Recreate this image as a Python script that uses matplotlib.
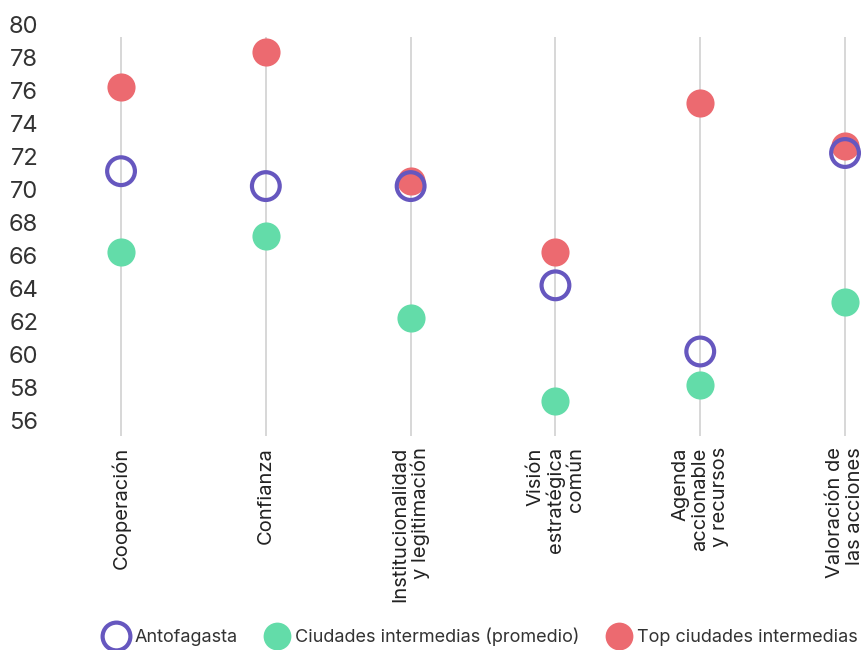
import matplotlib
matplotlib.use('Agg')
import matplotlib.pyplot as plt
from matplotlib.lines import Line2D

plt.rcParams['font.family'] = ['Inter', 'DejaVu Sans']

categorias = ['Cooperación', 'Confianza', 'Institucionalidad\ny legitimación',
              'Visión\nestratégica\ncomún', 'Agenda\naccionable\ny recursos',
              'Valoración de\nlas acciones']
antofagasta = [71.1, 70.2, 70.2, 64.2, 60.2, 72.2]
ciudades_prom = [66.2, 67.2, 62.2, 57.2, 58.2, 63.2]
top_ciudades = [76.2, 78.3, 70.5, 66.2, 75.2, 72.6]
y_ticks = list(range(56, 81, 2))

c_ant = '#6657BF'
c_prom = '#63DCA9'
c_top = '#EC6A70'

fig = plt.figure(figsize=(8.63, 6.5), dpi=100)
ax = fig.add_axes([55 / 863, 1 - 437.5 / 650, 808 / 863, 413.5 / 650])

x = list(range(len(categorias)))
ax.vlines(x, 55.1, 79.2, color='#d4d4d4', linewidth=1.3, zorder=1)

ax.scatter(x, top_ciudades, s=410, color=c_top, zorder=3, clip_on=False, linewidths=0)
ax.scatter(x, ciudades_prom, s=410, color=c_prom, zorder=3, clip_on=False, linewidths=0)
ax.scatter(x, antofagasta, s=400, facecolors='none', edgecolors=c_ant,
           linewidths=3, zorder=4, clip_on=False)

ax.set_xlim(-0.456, 5.124)
ax.set_ylim(55, 80)
ax.set_yticks(y_ticks)
ax.set_yticklabels([str(v) for v in y_ticks], fontsize=17, color='#333333')
ax.set_xticks(x)
ax.set_xticklabels(categorias, rotation=90, fontsize=14.5, color='#222222',
                   va='top', ha='center', multialignment='right', linespacing=1.1)
ax.tick_params(length=0, axis='y', pad=12)
ax.tick_params(length=0, axis='x', pad=7)
for s in ax.spines.values():
    s.set_visible(False)

handles = [
    Line2D([], [], marker='o', linestyle='', markersize=20, markerfacecolor='none',
           markeredgecolor=c_ant, markeredgewidth=3, label='Antofagasta'),
    Line2D([], [], marker='o', linestyle='', markersize=20, markerfacecolor=c_prom,
           markeredgewidth=0, label='Ciudades intermedias (promedio)'),
    Line2D([], [], marker='o', linestyle='', markersize=20, markerfacecolor=c_top,
           markeredgewidth=0, label='Top ciudades intermedias'),
]
fig.legend(handles=handles, loc='center', bbox_to_anchor=(0.558, 1 - 637 / 650), ncol=3,
           frameon=False, fontsize=13, handletextpad=0.4, columnspacing=1.6,
           handlelength=1.2, labelcolor='#333333')

fig.savefig('out.png', dpi=100)
